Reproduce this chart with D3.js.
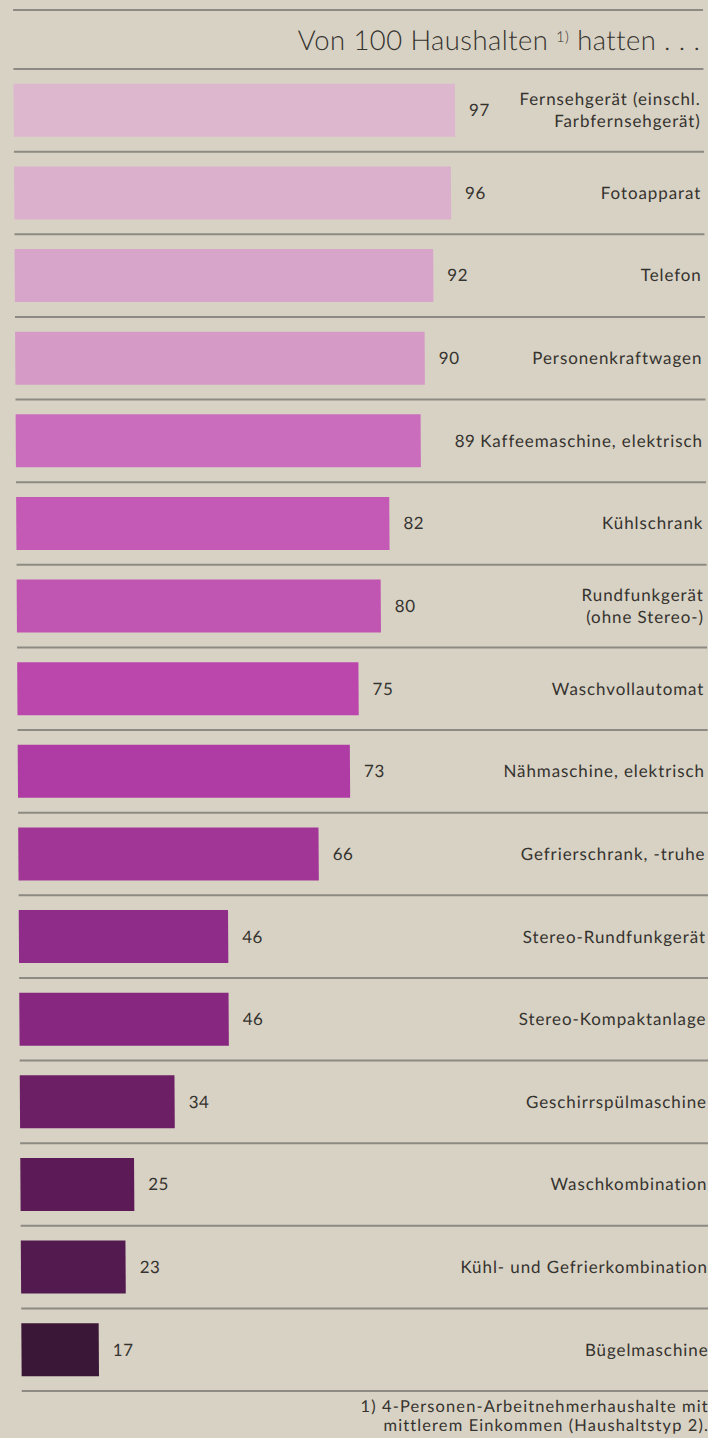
<!DOCTYPE html>
<html>
<head>
<meta charset="utf-8">
<script src="https://cdn.jsdelivr.net/npm/d3@7"></script>
<style>
  html, body { margin: 0; padding: 0; background: #d8d2c4; }
  svg { display: block; }
  text { font-family: Lato, "Open Sans", "DejaVu Sans", sans-serif; fill: #35332f; }
</style>
</head>
<body>
<svg id="chart" width="708" height="1438"></svg>
<script>
// Ausstattung der Haushalte mit langlebigen Gebrauchsgütern
const categories = [
  ["Fernsehgerät (einschl.", "Farbfernsehgerät)"],
  ["Fotoapparat"],
  ["Telefon"],
  ["Personenkraftwagen"],
  ["Kaffeemaschine, elektrisch"],
  ["Kühlschrank"],
  ["Rundfunkgerät", "(ohne Stereo-)"],
  ["Waschvollautomat"],
  ["Nähmaschine, elektrisch"],
  ["Gefrierschrank, -truhe"],
  ["Stereo-Rundfunkgerät"],
  ["Stereo-Kompaktanlage"],
  ["Geschirrspülmaschine"],
  ["Waschkombination"],
  ["Kühl- und Gefrierkombination"],
  ["Bügelmaschine"]
];
const values = [97, 96, 92, 90, 89, 82, 80, 75, 73, 66, 46, 46, 34, 25, 23, 17];

const titleText = "Von 100 Haushalten";
const titleNote = "1)";
const titleTail = "hatten . . .";
const footnote = [
  "1) 4-Personen-Arbeitnehmerhaushalte mit",
  "mittlerem Einkommen (Haushaltstyp 2)."
];

// bar tints, light pink to deep aubergine
const palette = [
  "#dcb7cd", "#dbb0cc", "#d8a5ca", "#d59bc6", "#cb6dbd", "#c55ab6",
  "#c155b2", "#bb47ad", "#af3ca4", "#a23697", "#8f2b89", "#87277f",
  "#6c1f64", "#5c1a57", "#531a4f", "#3a1736"
];

// value label pushed next to a long category name
const valueShift = { 4: 20 };

const left = 13, right = 700;
const svg = d3.select("#chart");

// the printed page sits slightly askew
const g = svg.append("g").attr("transform", "skewX(0.36)");

const n = values.length;
const y = d3.scaleBand()
  .domain(d3.range(n))
  .range([69, 1391])
  .paddingInner(0.358)
  .paddingOuter(0.179);

const x = d3.scaleLinear().domain([0, 100]).range([left, left + 455]);

const step = y.step();
const ruleYs = [10].concat(d3.range(n + 1).map(i => 69 + i * step));

g.selectAll("line.rule")
  .data(ruleYs)
  .join("line")
  .attr("class", "rule")
  .attr("x1", left)
  .attr("x2", right + 3)
  .attr("y1", d => d)
  .attr("y2", d => d)
  .attr("stroke", "#8c8a82")
  .attr("stroke-width", 2);

// title
const title = g.append("text")
  .attr("x", right)
  .attr("y", 50)
  .attr("text-anchor", "end")
  .style("font-size", "27.5px")
  .style("letter-spacing", "0.4px")
  .style("font-weight", 300);
title.append("tspan").text(titleText + " ");
title.append("tspan").text(titleNote)
  .style("font-size", "15px")
  .attr("dy", -8);
title.append("tspan").text(" " + titleTail)
  .style("font-size", "27.5px")
  .attr("dy", 8);

// bars
g.selectAll("rect.bar")
  .data(values)
  .join("rect")
  .attr("class", "bar")
  .attr("x", x(0))
  .attr("y", (d, i) => y(i))
  .attr("width", d => x(d) - x(0))
  .attr("height", y.bandwidth())
  .attr("fill", (d, i) => palette[i]);

// value labels
g.selectAll("text.value")
  .data(values)
  .join("text")
  .attr("class", "value")
  .attr("x", (d, i) => x(d) + 14 + (valueShift[i] || 0))
  .attr("y", (d, i) => y(i) + y.bandwidth() / 2)
  .attr("dy", "0.35em")
  .style("font-size", "17px")
  .style("letter-spacing", "0.5px")
  .text(d => d);

// category labels
const cat = g.selectAll("text.cat")
  .data(categories)
  .join("text")
  .attr("class", "cat")
  .attr("text-anchor", "end")
  .style("font-size", "17px")
  .style("letter-spacing", "0.9px")
  .attr("y", (d, i) => y(i) + y.bandwidth() / 2);

cat.selectAll("tspan")
  .data(d => d.map((t, k) => ({ t, k, m: d.length })))
  .join("tspan")
  .attr("x", right)
  .attr("dy", d => d.k === 0 ? (0.35 - (d.m - 1) * 0.65) + "em" : "1.3em")
  .text(d => d.t);

// footnote
g.selectAll("text.foot")
  .data(footnote)
  .join("text")
  .attr("class", "foot")
  .attr("text-anchor", "end")
  .attr("x", right)
  .attr("y", (d, i) => 1412 + i * 19)
  .style("font-size", "16.5px")
  .style("letter-spacing", "1.1px")
  .text(d => d);
</script>
</body>
</html>
